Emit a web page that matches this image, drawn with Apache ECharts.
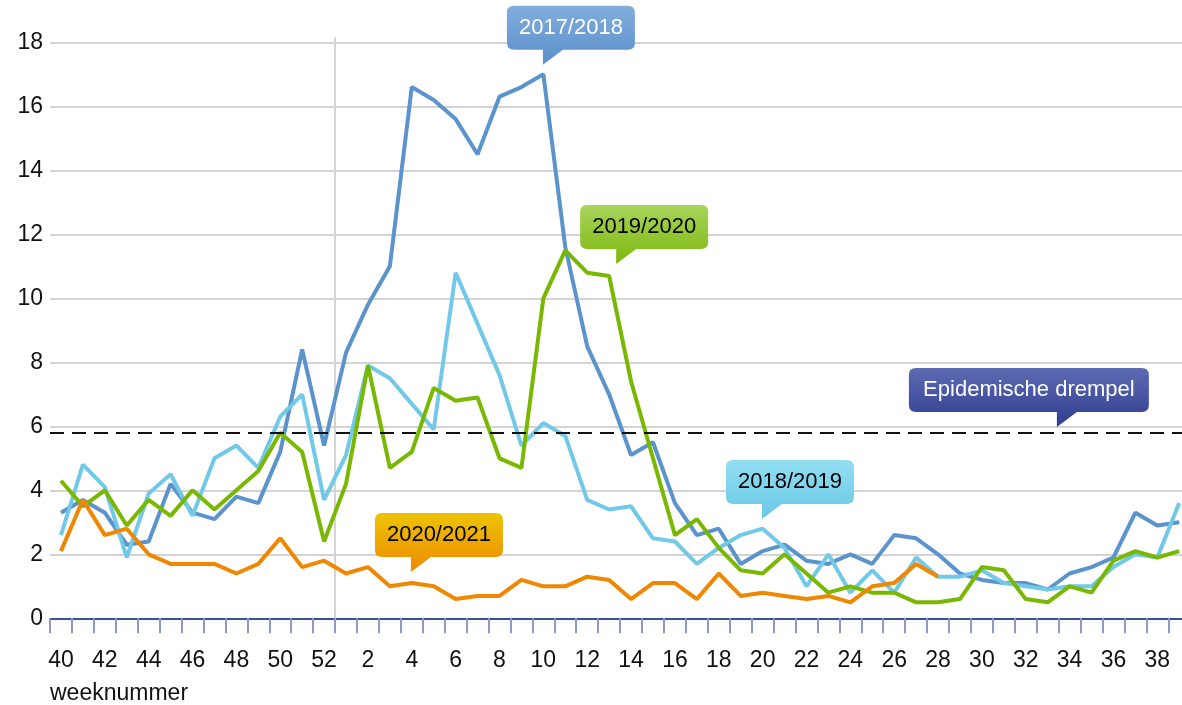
<!DOCTYPE html>
<html>
<head>
<meta charset="utf-8">
<script src="https://cdn.jsdelivr.net/npm/echarts@6/dist/echarts.min.js"></script>
<style>
  html, body { margin: 0; padding: 0; background: #fff; }
  #chart { width: 1182px; height: 705px; }
</style>
</head>
<body>
<div id="chart"></div>
<script>
// weken 40 t/m 52 en daarna 1 t/m 39
const weeks = [40, 41, 42, 43, 44, 45, 46, 47, 48, 49, 50, 51, 52,
  1, 2, 3, 4, 5, 6, 7, 8, 9, 10, 11, 12, 13, 14, 15, 16, 17, 18, 19, 20,
  21, 22, 23, 24, 25, 26, 27, 28, 29, 30, 31, 32, 33, 34, 35, 36, 37, 38, 39];

const s2017 = [3.3, 3.7, 3.3, 2.3, 2.4, 4.2, 3.3, 3.1, 3.8, 3.6,
  5.2, 8.4, 5.4, 8.3, 9.8, 11.0, 16.6, 16.2, 15.6, 14.5,
  16.3, 16.6, 17.0, 11.6, 8.5, 7.0, 5.1, 5.5, 3.6, 2.6,
  2.8, 1.7, 2.1, 2.3, 1.8, 1.7, 2.0, 1.7, 2.6, 2.5,
  2.0, 1.4, 1.2, 1.1, 1.1, 0.9, 1.4, 1.6, 1.9, 3.3, 2.9, 3.0];

const s2018 = [2.6, 4.8, 4.1, 1.9, 3.9, 4.5, 3.2, 5.0, 5.4, 4.7,
  6.3, 7.0, 3.7, 5.1, 7.9, 7.5, 6.7, 5.9, 10.8, 9.2,
  7.6, 5.4, 6.1, 5.7, 3.7, 3.4, 3.5, 2.5, 2.4, 1.7,
  2.2, 2.6, 2.8, 2.2, 1.0, 2.0, 0.8, 1.5, 0.8, 1.9,
  1.3, 1.3, 1.5, 1.1, 1.0, 0.9, 1.0, 1.0, 1.6, 2.0, 1.9, 3.6];

const s2019 = [4.3, 3.5, 4.0, 2.9, 3.7, 3.2, 4.0, 3.4, 4.0, 4.6,
  5.8, 5.2, 2.4, 4.2, 7.9, 4.7, 5.2, 7.2, 6.8, 6.9,
  5.0, 4.7, 10.0, 11.5, 10.8, 10.7, 7.4, 5.0, 2.6, 3.1,
  2.2, 1.5, 1.4, 2.0, 1.4, 0.8, 1.0, 0.8, 0.8, 0.5,
  0.5, 0.6, 1.6, 1.5, 0.6, 0.5, 1.0, 0.8, 1.8, 2.1, 1.9, 2.1];

// lopend seizoen, t/m week 28
const s2020 = [2.1, 3.7, 2.6, 2.8, 2.0, 1.7, 1.7, 1.7, 1.4, 1.7,
  2.5, 1.6, 1.8, 1.4, 1.6, 1.0, 1.1, 1.0, 0.6, 0.7,
  0.7, 1.2, 1.0, 1.0, 1.3, 1.2, 0.6, 1.1, 1.1, 0.6,
  1.4, 0.7, 0.8, 0.7, 0.6, 0.7, 0.5, 1.0, 1.1, 1.7, 1.3];

const seasons = ['2017/2018', '2018/2019', '2019/2020', '2020/2021'];
const threshold = 5.8;
const yTicks = [0, 2, 4, 6, 8, 10, 12, 14, 16, 18];

// ankerpunten van de labels (x in weekvakken vanaf week 40, y in waarde)
const calloutText = ['2017/2018', '2019/2020', '2018/2019', '2020/2021', 'Epidemische drempel'];
const calloutX = [22.48, 25.82, 32.47, 16.46, 45.92];
const calloutY = [17.30, 11.07, 3.10, 1.45, 5.98];

const chart = echarts.init(document.getElementById('chart'));

const lineColors = ['#5b93cc', '#72c9e7', '#78b800', '#ef8700'];
const boxColors = [
  ['#82aedd', '#5a8ec9', '#fff'],
  ['#a8d45c', '#7cb80c', '#000'],
  ['#92def1', '#6ac7e6', '#000'],
  ['#ecc400', '#ee8a00', '#000'],
  ['#5d6bb3', '#303c8e', '#fff']
];

const smallBox = 'path://M7 0H121Q128 0 128 7V37Q128 44 121 44H56L36 59V44H7Q0 44 0 37V7Q0 0 7 0Z';
const wideBox = 'path://M7 0H233Q240 0 240 7V37Q240 44 233 44H168L148 59V44H7Q0 44 0 37V7Q0 0 7 0Z';

const callouts = calloutText.map((t, i) => {
  const wide = t.length > 12;
  return {
    coord: [calloutX[i], calloutY[i]],
    symbol: wide ? wideBox : smallBox,
    symbolSize: wide ? [240, 59] : [128, 59],
    symbolOffset: wide ? [-28, -29.5] : [28, -29.5],
    itemStyle: {
      color: new echarts.graphic.LinearGradient(0, 0, 0, 1, [
        { offset: 0, color: boxColors[i][0] },
        { offset: 1, color: boxColors[i][1] }
      ])
    },
    label: {
      show: true, position: 'inside', formatter: t, offset: [0, -7.5],
      fontSize: 22, color: boxColors[i][2]
    }
  };
});

const seasonSeries = [s2017, s2018, s2019, s2020].map((d, i) => ({
  name: seasons[i],
  type: 'line',
  data: d,
  symbol: 'none',
  lineStyle: { width: 4, color: lineColors[i] },
  itemStyle: { color: lineColors[i] },
  z: 3
}));

const option = {
  animation: false,
  textStyle: { fontFamily: 'Liberation Sans, Arial, sans-serif' },
  title: {
    text: 'weeknummer', left: 50, top: 682, padding: 0,
    textStyle: { fontSize: 23, fontWeight: 'normal', color: '#111' }
  },
  // het laatste weekvak loopt iets buiten het beeld
  grid: { left: 50, width: 1140.2, top: 37.5, bottom: 86.7, outerBoundsMode: 'none' },
  xAxis: [{
    type: 'category',
    data: weeks.map(String),
    boundaryGap: true,
    axisLine: { lineStyle: { color: '#3c4da0', width: 2 } },
    axisTick: { show: true, interval: 0, length: 15, lineStyle: { color: '#8f97cc', width: 2 } },
    axisLabel: { interval: 1, fontSize: 23, color: '#111', margin: 31 },
    splitLine: { show: false }
  }, {
    type: 'value', min: 0, max: weeks.length, show: false
  }],
  yAxis: {
    type: 'value',
    min: 0, max: 18.15, interval: 2,
    axisLine: { show: false },
    axisTick: { show: false },
    axisLabel: {
      fontSize: 23, color: '#111', margin: 7, showMaxLabel: false,
      formatter: v => (yTicks.includes(v) ? String(v) : '')
    },
    splitLine: { showMaxLine: false, lineStyle: { color: '#c6c6c6', width: 1.5 } }
  },
  series: [
    {
      // jaargrens tussen week 52 en week 1
      type: 'line', xAxisIndex: 1, data: [], silent: true,
      markLine: {
        silent: true, symbol: 'none', z: 1, label: { show: false },
        lineStyle: { color: '#d4d4d4', width: 2, type: 'solid' },
        data: [{ xAxis: weeks.indexOf(1) }]
      }
    },
    ...seasonSeries,
    {
      type: 'line', xAxisIndex: 1, data: [], silent: true,
      markLine: {
        silent: true, symbol: 'none', label: { show: false },
        lineStyle: { color: '#111', width: 2, type: [14, 8] },
        data: [{ yAxis: threshold }]
      },
      markPoint: { silent: true, data: callouts }
    }
  ]
};

chart.setOption(option);
</script>
</body>
</html>
